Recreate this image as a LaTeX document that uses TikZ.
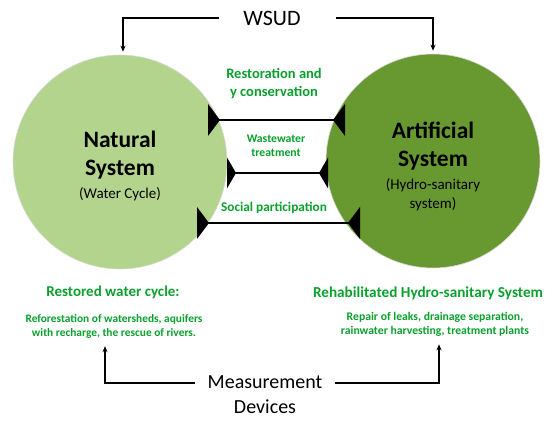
\documentclass[tikz,border=0pt]{standalone}
\usepackage{fontspec}
\setmainfont{Carlito}
\usetikzlibrary{arrows.meta,calc}
\definecolor{natgreen}{RGB}{179,212,140}
\definecolor{artgreen}{RGB}{104,152,48}
\definecolor{txtgreen}{RGB}{10,160,45}
\newcommand{\subf}{\fontsize{15}{18}\selectfont\mdseries}
\tikzset{
  sys/.style={circle,minimum size=214pt,inner sep=0pt,draw=white!85!black,line width=0.6pt,align=center},
  gtext/.style={text=txtgreen,align=center,inner sep=1pt,font=\bfseries},
  conn/.style={line width=1.6pt},
  flow/.style={line width=1.3pt,-{Stealth[length=6pt,width=5pt]}},
}
\newcommand{\tri}[3]{\fill ($(#1)+(0,-#3)$) -- ($(#1)+(0,#3)$) -- ($(#1)+(#2,0)$) -- cycle;}
\begin{document}
\begin{tikzpicture}[x=1pt,y=-1pt]
\useasboundingbox (0,0) rectangle (550,422);
% circles
\node[sys,fill=natgreen] (nat) at (120,162) {};
\node[sys,fill=artgreen] (art) at (433,161) {};
\node[align=center,font=\fontsize{23.5}{28}\selectfont\bfseries] (natlbl) at (120,166) {Natural\\[0pt] System\\[-5pt]\subf (Water Cycle)};
\node[align=center,font=\fontsize{23.5}{28}\selectfont\bfseries] (artlbl) at (433,166) {Artificial\\[0pt] System\\[-5pt]\subf (Hydro-sanitary\\[-9pt] \subf system)};
% top
\node[inner sep=2pt,font=\fontsize{22}{26}\selectfont] (wsud) at (272,18) {WSUD};
\draw[flow] (wsud.west) ++(-22,0) coordinate (wl) -| ($(nat.north)+(3,-3)$);
\draw[flow] (wsud.east) ++(33,0) coordinate (wr) -| ($(art.north)+(0,-3)$);
% connector labels
\node[gtext,font=\fontsize{14.5}{18}\selectfont\bfseries] (restlbl) at (274,84) {Restoration and\\y conservation};
\node[gtext,font=\fontsize{11.7}{14}\selectfont\bfseries] (wastelbl) at (276,146) {Wastewater\\treatment};
\node[gtext,font=\fontsize{13.3}{15}\selectfont\bfseries] (soclbl) at (274,208) {Social participation};
% connectors
\coordinate (l1) at (208,120); \coordinate (r1) at (345,120);
\coordinate (l2) at (227,173); \coordinate (r2) at (328,173);
\coordinate (l3) at (197,223); \coordinate (r3) at (360,223);
\draw[conn] (l1) -- (r1);
\draw[conn] (l2) -- (r2);
\draw[conn] (l3) -- (r3);
\tri{l1}{12}{16}\tri{r1}{-12}{16}
\tri{l2}{9}{15.5}\tri{r2}{-9}{15.5}
\tri{l3}{12}{16}\tri{r3}{-12}{16}
% bottom texts
\node[gtext,font=\fontsize{15}{17}\selectfont\bfseries] (resth) at (113,292) {Restored water cycle:};
\node[gtext,font=\fontsize{11.4}{14}\selectfont\bfseries] (restd) at (114,326) {Reforestation of watersheds, aquifers\\with recharge, the rescue of rivers.};
\node[gtext,font=\fontsize{15.2}{17}\selectfont\bfseries] (rehh) at (428,293) {Rehabilitated Hydro-sanitary System};
\node[gtext,font=\fontsize{11.7}{14}\selectfont\bfseries] (rehd) at (435,324) {Repair of leaks, drainage separation,\\rainwater harvesting, treatment plants};
\node[align=center,inner sep=2pt,font=\fontsize{20}{25}\selectfont] (meas) at (265,395) {Measurement\\Devices};
\coordinate (ml) at (195,383); \coordinate (mr) at (335,383);
\draw[flow] (ml) -| ($(restd.south)+(-9,7)$);
\draw[flow] (mr) -| ($(rehd.south)+(4,7)$);
\end{tikzpicture}
\end{document}
